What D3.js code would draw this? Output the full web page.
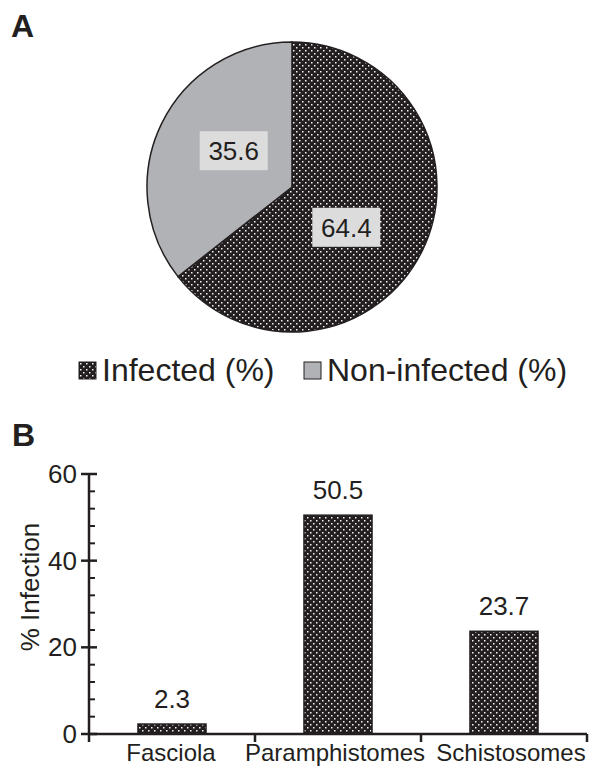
<!DOCTYPE html>
<html>
<head>
<meta charset="utf-8">
<script src="https://cdn.jsdelivr.net/npm/d3@7"></script>
<style>
  body { margin: 0; background: #fff; }
  svg { display: block; font-family: "Liberation Sans", Arial, sans-serif; }
</style>
</head>
<body>
<div id="chart"></div>
<script>
// panel A data
const pieLabels = ["Infected (%)", "Non-infected (%)"];
const pieValues = [64.4, 35.6];

// panel B data
const categories = ["Fasciola", "Paramphistomes", "Schistosomes"];
const infection = [2.3, 50.5, 23.7];
const yTicks = [0, 20, 40, 60];

const width = 589, height = 767;
const ink = "#231f20";

const svg = d3.select("#chart").append("svg")
    .attr("width", width)
    .attr("height", height);

// dotted fill for the dark slice and the bars
const defs = svg.append("defs");
const pat = defs.append("pattern")
    .attr("id", "dots")
    .attr("patternUnits", "userSpaceOnUse")
    .attr("width", 6).attr("height", 6);
pat.append("rect").attr("width", 6).attr("height", 6).attr("fill", ink);
pat.append("rect").attr("x", 1).attr("y", 1).attr("width", 1.5).attr("height", 1.5).attr("fill", "#f2f2f2");
pat.append("rect").attr("x", 4).attr("y", 4).attr("width", 1.5).attr("height", 1.5).attr("fill", "#f2f2f2");

const fills = ["url(#dots)", "#b1b2b6"];

// ---------- A: pie ----------
svg.append("text")
    .attr("x", 11).attr("y", 37)
    .attr("font-size", 32).attr("font-weight", "bold")
    .attr("fill", ink)
    .text("A");

const r = 145;
const pieG = svg.append("g").attr("transform", "translate(292,187)");

const pie = d3.pie().sort(null);
const arc = d3.arc().innerRadius(0).outerRadius(r);
const labelArc = d3.arc().innerRadius(0).outerRadius(r * 0.94);
// small nudges so the label boxes sit where the original put them
const labelNudge = [[-7, 11], [3, -6]];

const slices = pie(pieValues);

pieG.selectAll("path")
    .data(slices)
    .enter().append("path")
    .attr("d", arc)
    .attr("fill", (d, i) => fills[i])
    .attr("stroke", ink)
    .attr("stroke-width", 1.5);

const lab = pieG.selectAll("g.lab")
    .data(slices)
    .enter().append("g")
    .attr("class", "lab")
    .attr("transform", (d, i) => {
        const c = labelArc.centroid(d);
        return "translate(" + (c[0] + labelNudge[i][0]) + "," + (c[1] + labelNudge[i][1]) + ")";
    });

lab.append("rect")
    .attr("x", -34).attr("y", -20)
    .attr("width", 68).attr("height", 39)
    .attr("fill", "#dcdcdc");

lab.append("text")
    .attr("text-anchor", "middle")
    .attr("y", 9)
    .attr("font-size", 26)
    .attr("fill", ink)
    .text(d => d.data.toFixed(1));

// legend
const legendX = [79, 304];
const leg = svg.selectAll("g.leg")
    .data(pieLabels)
    .enter().append("g")
    .attr("class", "leg")
    .attr("transform", (d, i) => "translate(" + legendX[i] + ",362)");

leg.append("rect")
    .attr("width", 17).attr("height", 17)
    .attr("fill", (d, i) => fills[i])
    .attr("stroke", ink)
    .attr("stroke-width", 1);

leg.append("text")
    .attr("x", 23).attr("y", 19)
    .attr("font-size", 32)
    .attr("fill", ink)
    .text(d => d);

// ---------- B: bars ----------
svg.append("text")
    .attr("x", 12).attr("y", 446)
    .attr("font-size", 32).attr("font-weight", "bold")
    .attr("fill", ink)
    .text("B");

const x = d3.scaleBand()
    .domain(categories)
    .range([89, 587])
    .paddingInner(0.59)
    .paddingOuter(0.295);

const y = d3.scaleLinear()
    .domain([0, 60])
    .range([734, 474]);

const barG = svg.append("g");

barG.selectAll("rect")
    .data(infection)
    .enter().append("rect")
    .attr("x", (d, i) => x(categories[i]))
    .attr("y", d => y(d))
    .attr("width", x.bandwidth())
    .attr("height", d => y(0) - y(d))
    .attr("fill", "url(#dots)")
    .attr("stroke", ink)
    .attr("stroke-width", 1.5);

barG.selectAll("text")
    .data(infection)
    .enter().append("text")
    .attr("x", (d, i) => x(categories[i]) + x.bandwidth() / 2)
    .attr("y", d => y(d) - 16)
    .attr("text-anchor", "middle")
    .attr("font-size", 26)
    .attr("fill", ink)
    .text(d => d.toFixed(1));

// y axis: major ticks cross the line, minor ticks inside
const yAxisG = svg.append("g").attr("transform", "translate(89,0)");
yAxisG.append("line")
    .attr("y1", y(60)).attr("y2", y(0))
    .attr("stroke", ink).attr("stroke-width", 2.5);

const minor = d3.range(0, 61, 4).filter(v => yTicks.indexOf(v) < 0);
yAxisG.selectAll("line.minor")
    .data(minor)
    .enter().append("line")
    .attr("class", "minor")
    .attr("x1", 0).attr("x2", 6)
    .attr("y1", d => y(d)).attr("y2", d => y(d))
    .attr("stroke", ink).attr("stroke-width", 2);

yAxisG.selectAll("line.major")
    .data(yTicks)
    .enter().append("line")
    .attr("class", "major")
    .attr("x1", -8).attr("x2", 8)
    .attr("y1", d => y(d)).attr("y2", d => y(d))
    .attr("stroke", ink).attr("stroke-width", 2.5);

yAxisG.selectAll("text")
    .data(yTicks)
    .enter().append("text")
    .attr("x", -12)
    .attr("y", d => y(d) + 9)
    .attr("text-anchor", "end")
    .attr("font-size", 26)
    .attr("fill", ink)
    .text(d => d);

svg.append("text")
    .attr("transform", "translate(39,587) rotate(-90)")
    .attr("text-anchor", "middle")
    .attr("font-size", 26)
    .attr("fill", ink)
    .text("% Infection");

// x axis with ticks between categories
const xAxisG = svg.append("g").attr("transform", "translate(0," + y(0) + ")");
xAxisG.append("line")
    .attr("x1", 89).attr("x2", 587)
    .attr("stroke", ink).attr("stroke-width", 2.5);

const step = x.step();
const bounds = d3.range(categories.length + 1).map(i => 89 + i * step);
xAxisG.selectAll("line.tick")
    .data(bounds)
    .enter().append("line")
    .attr("class", "tick")
    .attr("x1", d => d).attr("x2", d => d)
    .attr("y1", 0).attr("y2", 8)
    .attr("stroke", ink).attr("stroke-width", 2.5);

// labels are pushed apart a little, as in the original
const labelShift = [-1, -3, 7];
xAxisG.selectAll("text")
    .data(categories)
    .enter().append("text")
    .attr("x", (d, i) => x(d) + x.bandwidth() / 2 + labelShift[i])
    .attr("y", 27)
    .attr("text-anchor", "middle")
    .attr("font-size", 24)
    .attr("fill", ink)
    .text(d => d);
</script>
</body>
</html>
